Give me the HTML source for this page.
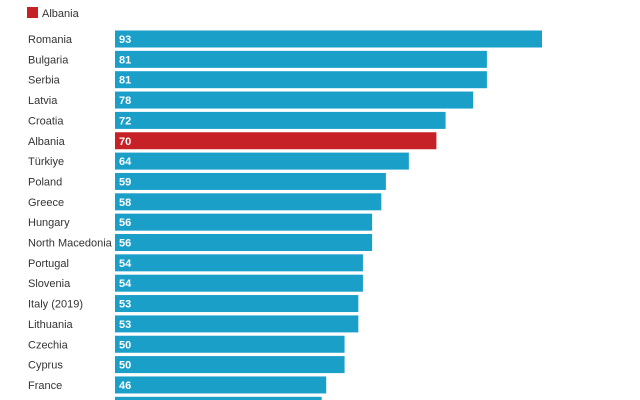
<!DOCTYPE html>
<html><head><meta charset="utf-8"><style>
body{margin:0;background:#fff;}
svg{display:block;font-family:"Liberation Sans",sans-serif;}
</style></head><body>
<svg id="chart" width="640" height="400" viewBox="0 0 640 400">
<g>
<rect x="27" y="7" width="11" height="11" fill="#c62127"/>
<text x="42" y="17" font-size="11" fill="#333">Albania</text>
</g>
<g id="bars"></g>
</svg>
<script>
const categories=["Romania","Bulgaria","Serbia","Latvia","Croatia","Albania","Türkiye","Poland","Greece","Hungary","North Macedonia","Portugal","Slovenia","Italy (2019)","Lithuania","Czechia","Cyprus","France",""];
const values=[93,81,81,78,72,70,64,59,58,56,56,54,54,53,53,50,50,46,45];
const highlight=["Albania"];
const x0=115,pxPer=427/93,y0=39,pitch=20.35,bh=17;
const xs=v=>v*pxPer;
const ys=i=>y0+pitch*i;
const g=document.getElementById('bars');
const ns="http://www.w3.org/2000/svg";
categories.forEach((c,i)=>{
  const y=ys(i);
  const r=document.createElementNS(ns,'rect');
  
  
  r.setAttribute('x',x0);r.setAttribute('y',y-bh/2);
  r.setAttribute('width',xs(values[i]));r.setAttribute('height',bh);
  r.setAttribute('fill',highlight.includes(c)?'#c62127':'#1a9fc9');
  g.appendChild(r);
  if(c){
    const t=document.createElementNS(ns,'text');
    
    
    t.setAttribute('x',28);t.setAttribute('y',y+4);
    t.setAttribute('font-size','11');t.setAttribute('fill','#333');
    t.textContent=c;g.appendChild(t);
    const v=document.createElementNS(ns,'text');
    
    
    v.setAttribute('x',119);v.setAttribute('y',y+4);
    v.setAttribute('font-size','11');v.setAttribute('font-weight','bold');v.setAttribute('fill','#fff');
    v.textContent=values[i];g.appendChild(v);
  }
});
</script>
</body></html>
